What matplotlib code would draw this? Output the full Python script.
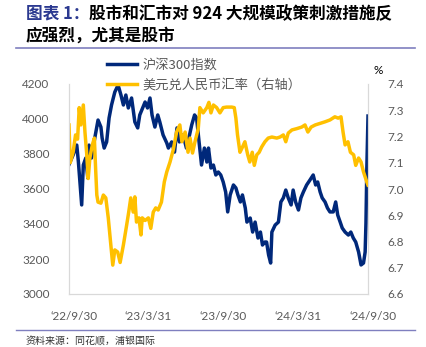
import pandas as pd
import matplotlib
matplotlib.use("Agg")
import matplotlib.pyplot as plt
import matplotlib.transforms as mtransforms
from matplotlib.lines import Line2D

plt.rcParams['font.family'] = ['Noto Sans CJK SC', 'DejaVu Sans']

# 沪深300指数 (left axis)
csi_dates = [
    "2022-09-30", "2022-10-10", "2022-10-19", "2022-10-23", "2022-10-31", "2022-11-04",
    "2022-11-10", "2022-11-15", "2022-11-18", "2022-11-24", "2022-12-02", "2022-12-10",
    "2022-12-17", "2022-12-20", "2022-12-25", "2022-12-31", "2023-01-06", "2023-01-12",
    "2023-01-20", "2023-01-28", "2023-02-04", "2023-02-10", "2023-02-16", "2023-02-22",
    "2023-03-02", "2023-03-10", "2023-03-17", "2023-03-22", "2023-04-04", "2023-04-10",
    "2023-04-16", "2023-04-21", "2023-04-28", "2023-05-05", "2023-05-10", "2023-05-18",
    "2023-05-27", "2023-05-31", "2023-06-08", "2023-06-15", "2023-06-21", "2023-06-27",
    "2023-07-06", "2023-07-14", "2023-07-20", "2023-07-27", "2023-08-03", "2023-08-08",
    "2023-08-14", "2023-08-20", "2023-08-27", "2023-09-02", "2023-09-06", "2023-09-12",
    "2023-09-18", "2023-09-24", "2023-09-30", "2023-10-06", "2023-10-12", "2023-10-18",
    "2023-10-23", "2023-10-29", "2023-11-06", "2023-11-12", "2023-11-17", "2023-11-23",
    "2023-11-28", "2023-12-05", "2023-12-09", "2023-12-17", "2023-12-23", "2023-12-29",
    "2024-01-05", "2024-01-11", "2024-01-16", "2024-01-22", "2024-01-26", "2024-01-31",
    "2024-02-05", "2024-02-08", "2024-02-16", "2024-02-24", "2024-03-01", "2024-03-07",
    "2024-03-13", "2024-03-19", "2024-03-26", "2024-03-31", "2024-04-06", "2024-04-13",
    "2024-04-19", "2024-04-25", "2024-05-03", "2024-05-11", "2024-05-19", "2024-05-25",
    "2024-05-30", "2024-06-05", "2024-06-10", "2024-06-17", "2024-06-23", "2024-06-29",
    "2024-07-07", "2024-07-13", "2024-07-18", "2024-07-24", "2024-07-29", "2024-08-05",
    "2024-08-13", "2024-08-19", "2024-08-25", "2024-08-31", "2024-09-07", "2024-09-13",
    "2024-09-19", "2024-09-23", "2024-09-25", "2024-09-26", "2024-09-27", "2024-09-30",
]
csi_vals = [
    3740, 3794, 3851, 3754, 3509, 3737,
    3777, 3663, 3851, 3777, 3891, 3994,
    3954, 3891, 3834, 3869, 4006, 4080,
    4154, 4194, 4137, 4080, 4137, 4063,
    4120, 3983, 3949, 4023, 4097, 4063,
    4120, 4023, 3954, 4023, 3983, 3909,
    3863, 3834, 3869, 3811, 3949, 3869,
    3909, 3834, 3891, 3966, 4023, 4006,
    3869, 3737, 3834, 3754, 3834, 3720,
    3737, 3680, 3697, 3680, 3640, 3583,
    3469, 3566, 3623, 3606, 3566, 3526,
    3566, 3491, 3411, 3434, 3354, 3411,
    3320, 3354, 3280, 3297, 3297, 3223,
    3177, 3354, 3394, 3411, 3526, 3549,
    3594, 3549, 3509, 3594, 3526, 3480,
    3549, 3583, 3623, 3651, 3680, 3623,
    3640, 3583, 3549, 3526, 3491, 3469,
    3469, 3526, 3451, 3411, 3377, 3354,
    3337, 3354, 3320, 3297, 3240, 3166,
    3177, 3240, 3405, 3552, 3703, 4017,
]

# 美元兑人民币汇率 (right axis)
fx_dates = [
    "2022-09-30", "2022-10-03", "2022-10-10", "2022-10-16", "2022-10-21", "2022-10-25",
    "2022-10-29", "2022-11-04", "2022-11-08", "2022-11-12", "2022-11-16", "2022-11-20",
    "2022-11-26", "2022-12-01", "2022-12-04", "2022-12-07", "2022-12-10", "2022-12-17",
    "2022-12-23", "2022-12-29", "2023-01-04", "2023-01-11", "2023-01-15", "2023-01-20",
    "2023-01-27", "2023-02-02", "2023-02-10", "2023-02-18", "2023-02-23", "2023-02-28",
    "2023-03-06", "2023-03-10", "2023-03-14", "2023-03-20", "2023-03-25", "2023-03-28",
    "2023-04-04", "2023-04-12", "2023-04-18", "2023-04-24", "2023-04-30", "2023-05-06",
    "2023-05-14", "2023-05-21", "2023-05-27", "2023-06-04", "2023-06-12", "2023-06-20",
    "2023-06-28", "2023-07-03", "2023-07-11", "2023-07-18", "2023-07-23", "2023-07-29",
    "2023-08-04", "2023-08-12", "2023-08-16", "2023-08-24", "2023-09-02", "2023-09-07",
    "2023-09-12", "2023-09-18", "2023-09-26", "2023-10-04", "2023-10-12", "2023-10-20",
    "2023-11-02", "2023-11-08", "2023-11-12", "2023-11-16", "2023-11-22", "2023-11-27",
    "2023-12-04", "2023-12-11", "2023-12-16", "2023-12-22", "2023-12-27", "2024-01-02",
    "2024-01-08", "2024-01-14", "2024-01-22", "2024-01-30", "2024-02-08", "2024-02-20",
    "2024-02-28", "2024-03-07", "2024-03-13", "2024-03-19", "2024-03-28", "2024-04-09",
    "2024-04-21", "2024-04-29", "2024-05-06", "2024-05-14", "2024-05-24", "2024-06-05",
    "2024-06-17", "2024-06-29", "2024-07-11", "2024-07-19", "2024-07-26", "2024-07-31",
    "2024-08-05", "2024-08-12", "2024-08-18", "2024-08-26", "2024-08-31", "2024-09-07",
    "2024-09-13", "2024-09-19", "2024-09-27", "2024-09-30",
]
fx_vals = [
    7.244, 7.100, 7.140, 7.206, 7.190, 7.310,
    7.244, 7.320, 7.217, 7.140, 7.040, 7.118,
    7.168, 7.194, 7.080, 6.977, 6.950, 6.946,
    6.977, 6.966, 6.890, 6.775, 6.710, 6.768,
    6.760, 6.720, 6.787, 6.863, 6.912, 6.966,
    6.912, 6.970, 6.874, 6.890, 6.825, 6.890,
    6.880, 6.890, 6.850, 6.912, 6.928, 6.920,
    6.950, 7.027, 7.065, 7.103, 7.150, 7.217,
    7.244, 7.180, 7.217, 7.140, 7.194, 7.137,
    7.180, 7.230, 7.310, 7.290, 7.310, 7.330,
    7.290, 7.320, 7.310, 7.290, 7.310, 7.312,
    7.312, 7.310, 7.270, 7.206, 7.140, 7.156,
    7.180, 7.130, 7.103, 7.140, 7.090, 7.130,
    7.140, 7.160, 7.180, 7.194, 7.198, 7.194,
    7.198, 7.206, 7.180, 7.213, 7.225, 7.230,
    7.236, 7.244, 7.217, 7.236, 7.244, 7.250,
    7.256, 7.263, 7.275, 7.270, 7.275, 7.217,
    7.168, 7.180, 7.140, 7.130, 7.090, 7.118,
    7.103, 7.065, 7.027, 7.015,
]

xtick_dates = ["2022-09-30", "2023-03-31", "2023-09-30", "2024-03-31", "2024-09-30"]
xtick_labels = ["\u201822/9/30", "\u201823/3/31", "\u201823/9/30", "\u201824/3/31", "\u201824/9/30"]
left_ticks = [3000, 3200, 3400, 3600, 3800, 4000, 4200]
right_ticks = [6.6, 6.7, 6.8, 6.9, 7.0, 7.1, 7.2, 7.3, 7.4]

BLUE = "#00287A"
GOLD = "#FFC000"
GRID = "#D9D9D9"
TICK = "#595959"
RULE = "#7F7FBF"

fig = plt.figure(figsize=(4.27, 3.47), dpi=100)
W, H = 427, 347
ax = fig.add_axes([69 / W, 1 - 294 / H, (368 - 69) / W, (294 - 84) / H])
ax2 = ax.twinx()

csi_x = pd.to_datetime(csi_dates)
fx_x = pd.to_datetime(fx_dates)
l1, = ax.plot(csi_x, csi_vals, color=BLUE, lw=2.5, solid_joinstyle="round")
l2, = ax2.plot(fx_x, fx_vals, color=GOLD, lw=2.5, solid_joinstyle="round")

ax.set_xlim(pd.Timestamp("2022-09-30"), pd.Timestamp("2024-09-30"))
ax.set_ylim(3000, 4200)
ax2.set_ylim(6.6, 7.4)

ax.set_yticks(left_ticks)
ax.set_yticklabels([str(v) for v in left_ticks])
ax2.set_yticks(right_ticks)
ax2.set_yticklabels([f"{v:.1f}" for v in right_ticks])
ax.set_xticks(pd.to_datetime(xtick_dates))
ax.set_xticklabels(xtick_labels)

for a in (ax, ax2):
    a.tick_params(length=0, labelsize=8.5, labelcolor=TICK)
    for lab in a.get_yticklabels() + a.get_xticklabels():
        lab.set_fontfamily(["Lato", "DejaVu Sans"])
    a.spines["top"].set_visible(False)
    for s in ("left", "right", "bottom"):
        a.spines[s].set_color(GRID)
        a.spines[s].set_linewidth(0.8)
ax.tick_params(axis="y", pad=14)
ax2.tick_params(axis="y", pad=14)
ax.tick_params(axis="x", pad=12)

# nudge the date labels to the right a little
shift = mtransforms.ScaledTranslation(5 / 100, 0, fig.dpi_scale_trans)
for lab in ax.get_xticklabels():
    lab.set_transform(lab.get_transform() + shift)

fig.text(378 / W, 1 - 70 / H, "%", fontsize=8.5, color="black",
         ha="center", va="center", family=["Lato", "DejaVu Sans"])

fig.legend([l1, l2], ["沪深300指数", "美元兑人民币汇率（右轴）"],
           loc="upper left", bbox_to_anchor=(100 / W, 1 - 52 / H),
           frameon=False, fontsize=9.5, handlelength=2.3, handletextpad=0.4,
           labelspacing=0.55, borderpad=0, labelcolor=TICK)

# title, two colours on the first line
t1 = fig.text(26 / W, 1 - 19 / H, "图表 1：", fontsize=12, fontweight="bold",
              color="#2B3990", ha="left", va="baseline")
ax.annotate("股市和汇市对 924 大规模政策刺激措施反", xy=(1, 0), xycoords=t1,
            va="bottom", ha="left", fontsize=12, fontweight="bold",
            color="black", annotation_clip=False)
fig.text(26 / W, 1 - 41 / H, "应强烈，尤其是股市", fontsize=12, fontweight="bold",
         color="black", ha="left", va="baseline")

fig.add_artist(Line2D([16 / W, 415 / W], [1 - 48 / H, 1 - 48 / H],
                      color=RULE, lw=1.2, transform=fig.transFigure))
fig.add_artist(Line2D([16 / W, 415 / W], [1 - 330 / H, 1 - 330 / H],
                      color=RULE, lw=1.0, transform=fig.transFigure))
fig.text(26 / W, 1 - 341 / H, "资料来源：同花顺，浦银国际", fontsize=7.2,
         color="#333333", ha="left", va="center")

fig.savefig("out.png", dpi=100)
